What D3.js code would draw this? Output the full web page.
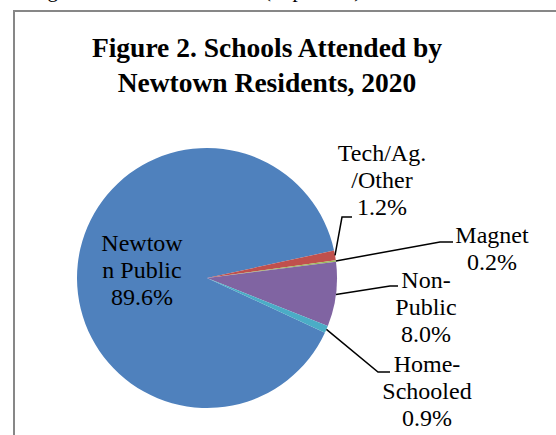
<!DOCTYPE html>
<html>
<head>
<meta charset="utf-8">
<script src="https://cdn.jsdelivr.net/npm/d3@7"></script>
<style>
  body { margin: 0; background: #fff; }
  svg { display: block; font-family: "Liberation Serif", "Times New Roman", serif; }
</style>
</head>
<body>
<div id="chart"></div>
<script>
// chart data
const categories = ["Newtown Public", "Tech/Ag./Other", "Magnet", "Non-Public", "Home-Schooled"];
const values = [89.6, 1.2, 0.2, 8.0, 0.9];
const labelLines = [["Newtow", "n Public"], ["Tech/Ag.", "/Other"], ["Magnet"], ["Non-", "Public"], ["Home-", "Schooled"]];
const titleLines = ["Figure 2. Schools Attended by", "Newtown Residents, 2020"];
const colors = ["#4F81BD", "#C0504D", "#9BBB59", "#8064A2", "#4BACC6"];

const width = 556, height = 435;
const cx = 207, cy = 278, r = 130;
const startDeg = 114.9;

// label placement: [centre x, first baseline, elbow x, elbow y, end x]
const labelPos = [
  { x: 142, y: 251 },
  { x: 382, y: 161, elbow: [342, 217], end: 352 },
  { x: 492, y: 243, elbow: [440, 242], end: 453 },
  { x: 426, y: 288, elbow: [390, 286], end: 398 },
  { x: 427, y: 372, elbow: [378, 372], end: 390 }
];
const lineH = 26.8;

const svg = d3.select("#chart").append("svg")
  .attr("width", width)
  .attr("height", height);

// cut-off caption from the page above
svg.append("text")
  .attr("x", 30)
  .attr("y", -3)
  .attr("font-size", 21)
  .text("Figure 2. Schools Attended (in percent)");

// chart frame
svg.append("rect")
  .attr("x", 14)
  .attr("y", 11)
  .attr("width", 600)
  .attr("height", 500)
  .attr("fill", "#fff")
  .attr("stroke", "#878787")
  .attr("stroke-width", 2);

svg.append("g")
  .selectAll("text")
  .data(titleLines)
  .join("text")
  .attr("x", 267)
  .attr("y", (d, i) => 57 + i * 35)
  .attr("text-anchor", "middle")
  .attr("font-size", 27.5)
  .attr("font-weight", "bold")
  .text(d => d);

const a0 = startDeg * Math.PI / 180;
const pie = d3.pie().sort(null).value(d => d).startAngle(a0).endAngle(a0 + 2 * Math.PI);
const arcs = pie(values);
const arc = d3.arc().innerRadius(0).outerRadius(r);

const g = svg.append("g").attr("transform", `translate(${cx},${cy})`);
g.selectAll("path")
  .data(arcs)
  .join("path")
  .attr("d", arc)
  .attr("fill", (d, i) => colors[i]);

const fmt = d3.format(".1f");

// leader lines
arcs.forEach((d, i) => {
  const p = labelPos[i];
  if (!p.elbow) return;
  const mid = (d.startAngle + d.endAngle) / 2;
  const sx = cx + r * Math.sin(mid), sy = cy - r * Math.cos(mid);
  svg.append("polyline")
    .attr("points", [[sx, sy], p.elbow, [p.end, p.elbow[1]]].map(q => q.join(",")).join(" "))
    .attr("fill", "none")
    .attr("stroke", "#000")
    .attr("stroke-width", 1.5);
});

// labels
arcs.forEach((d, i) => {
  const p = labelPos[i];
  const lines = labelLines[i].concat([fmt(values[i]) + "%"]);
  svg.append("text")
    .attr("text-anchor", "middle")
    .attr("font-size", 24)
    .selectAll("tspan")
    .data(lines)
    .join("tspan")
    .attr("x", p.x)
    .attr("y", (t, j) => p.y + j * lineH)
    .text(t => t);
});
</script>
</body>
</html>
